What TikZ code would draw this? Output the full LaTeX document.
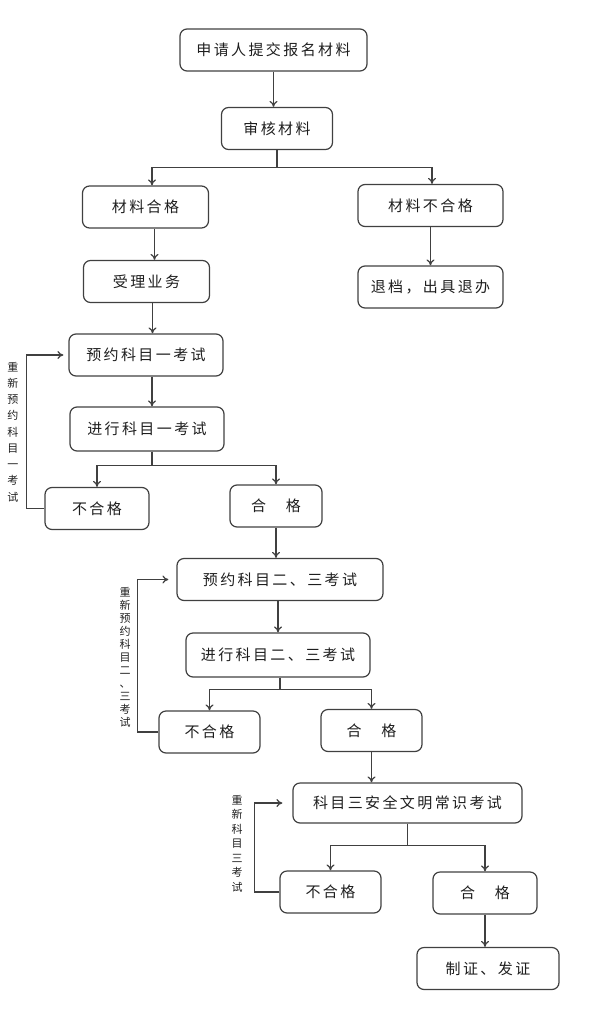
\documentclass[tikz,border=0pt]{standalone}
\usepackage{fontspec}
\setmainfont{Noto Sans CJK SC}[LetterSpace=16]
\usetikzlibrary{arrows.meta}
\definecolor{linegray}{HTML}{404040}
\definecolor{textgray}{HTML}{1E1E1E}

\begin{document}
\begin{tikzpicture}[x=1pt,y=-1pt,line width=1.2pt,draw=linegray,
  >={To[length=6pt,width=8pt]},
  flowbox/.style={draw=linegray,rounded corners=7pt,inner sep=0pt,
    minimum height=42pt,text=textgray,font=\fontsize{15}{15}\selectfont},
  sidenote/.style={align=center,inner sep=0pt,text=textgray,
    font=\fontsize{11}{#1}\selectfont}]
\useasboundingbox (0,0) rectangle (602,1021);

\node[flowbox,minimum width=187pt] (apply) at (273.5,50) {申请人提交报名材料};
\node[flowbox,minimum width=111pt] (review) at (277,128.5) {审核材料};
\node[flowbox,minimum width=126pt] (ok) at (145.5,207) {材料合格};
\node[flowbox,minimum width=145pt] (fail) at (430.5,205.5) {材料不合格};
\node[flowbox,minimum width=126pt] (accept) at (146.5,281.5) {受理业务};
\node[flowbox,minimum width=145pt] (refund) at (430.5,287) {退档，出具退办};
\node[flowbox,minimum width=154pt] (book1) at (146,355) {预约科目一考试};
\node[flowbox,minimum width=154pt,minimum height=44pt] (exam1) at (147,429) {进行科目一考试};
\node[flowbox,minimum width=104pt] (fail1) at (97,508.5) {不合格};
\node[flowbox,minimum width=92pt] (pass1) at (276,506) {合　格};
\node[flowbox,minimum width=206pt] (book2) at (280,579.5) {预约科目二、三考试};
\node[flowbox,minimum width=184pt,minimum height=44pt] (exam2) at (278,655) {进行科目二、三考试};
\node[flowbox,minimum width=101pt] (fail2) at (209.5,732) {不合格};
\node[flowbox,minimum width=101pt] (pass2) at (371.5,730.5) {合　格};
\node[flowbox,minimum width=229pt,minimum height=40pt] (safety) at (407.5,803) {科目三安全文明常识考试};
\node[flowbox,minimum width=101pt] (fail3) at (330.5,892) {不合格};
\node[flowbox,minimum width=104pt] (pass3) at (485,893) {合　格};
\node[flowbox,minimum width=142pt] (cert) at (488,968.5) {制证、发证};

\node[sidenote=16.25] (note1) at (13,432) {重\\新\\预\\约\\科\\目\\一\\考\\试};
\node[sidenote=13] (note2) at (125,657) {重\\新\\预\\约\\科\\目\\二\\、\\三\\考\\试};
\node[sidenote=14.5] (note3) at (237,843.5) {重\\新\\科\\目\\三\\考\\试};

\draw[->] (apply) -- (apply |- review.north);
\draw[->] (review.south) -- ++(0,17.5) -| ([xshift=6.5pt]ok.north);
\draw[->] (review.south) -- ++(0,17.5) -| ([xshift=1.5pt]fail.north);
\draw[->] ([xshift=9pt]ok.south) -- ([xshift=9pt]ok.south |- accept.north);
\draw[->] (fail) -- (fail |- refund.north);
\draw[->] ([xshift=6pt]accept.south) -- ([xshift=6pt]accept.south |- book1.north);
\draw[->] ([xshift=6pt]book1.south) -- ([xshift=6pt]book1.south |- exam1.north);
\draw[->] ([xshift=5pt]exam1.south) -- ++(0,14) -| (fail1);
\draw[->] ([xshift=5pt]exam1.south) -- ++(0,14) -| (pass1);
\draw[->] (pass1) -- (pass1 |- book2.north);
\draw[->] (exam2 |- book2.south) -- (exam2);
\draw[->] ([xshift=2pt]exam2.south) -- ++(0,12) -| (fail2);
\draw[->] ([xshift=2pt]exam2.south) -- ++(0,12) -| (pass2);
\draw[->] (pass2) -- (pass2 |- safety.north);
\draw[->] (safety.south) -- ++(0,22) -| (fail3);
\draw[->] (safety.south) -- ++(0,22) -| (pass3);
\draw[->] (pass3) -- (pass3 |- cert.north);

\draw[->,shorten >=5pt] (fail1.west) -- ++(-18,0) |- (book1);
\draw[->,shorten >=8pt] (fail2.west) -- ++(-21,0) |- (book2);
\draw[->,shorten >=10pt] (fail3.west) -- ++(-25,0) |- (safety);
\end{tikzpicture}
\end{document}
